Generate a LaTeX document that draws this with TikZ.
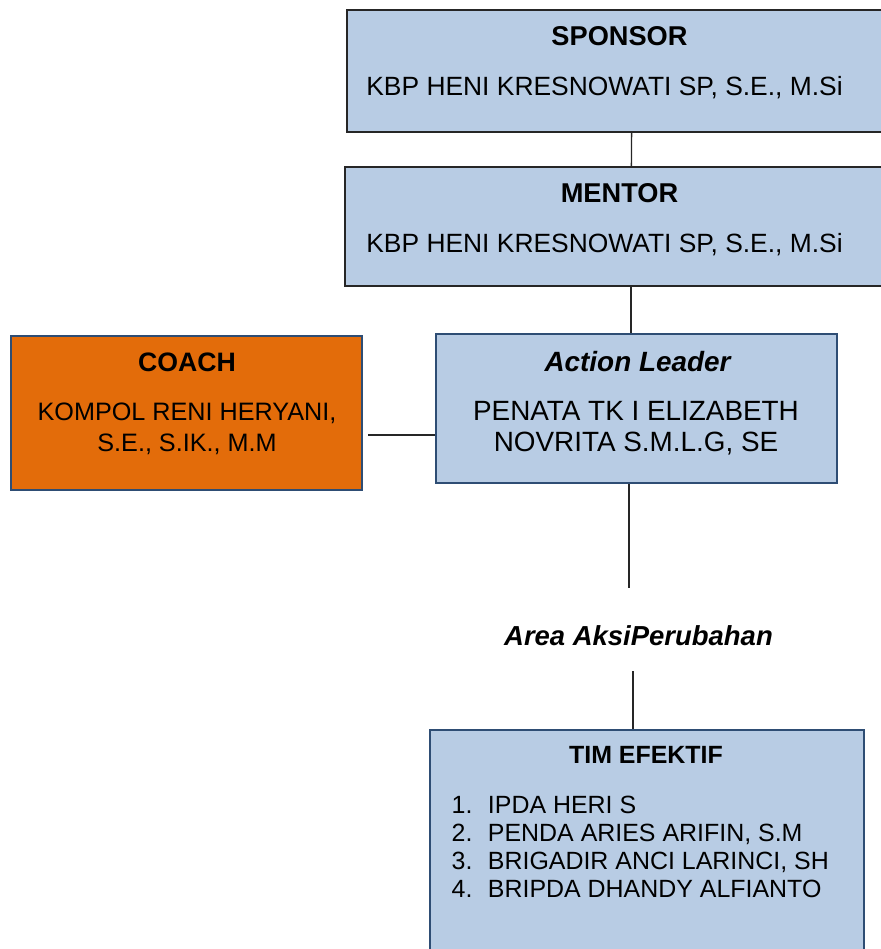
\documentclass[tikz,border=0pt]{standalone}
\usepackage{fontspec}
\setmainfont{Liberation Sans}
\usetikzlibrary{positioning}
\definecolor{boxblue}{HTML}{B8CCE4}
\definecolor{lineblue}{HTML}{2E4D74}
\definecolor{coachorange}{HTML}{E36C0A}
\begin{document}
\begin{tikzpicture}[x=0.75pt,y=-0.75pt,
	box/.style={draw=black!85,fill=boxblue,line width=1.2pt,rectangle,inner sep=0pt},
	bluebox/.style={box,draw=lineblue,line width=1.8pt},
	title/.style={font=\fontsize{20.4}{24}\selectfont\bfseries},
	body/.style={font=\fontsize{19.8}{23.25}\selectfont,align=center},
	conn/.style={draw=black!85,line width=1pt}]
		\useasboundingbox (0,0) rectangle (881,949);
		\clip (0,0) rectangle (881,949);
		\node[box,minimum width=570*0.75pt,minimum height=122*0.75pt] at (632,71) (sponsor) {};
		\node[box,minimum width=572*0.75pt,minimum height=119*0.75pt] at (631,226.5) (mentor) {};
		\node[bluebox,fill=coachorange,minimum width=351*0.75pt,minimum height=154*0.75pt] at (186.5,413) (coach) {};
		\node[bluebox,minimum width=401*0.75pt,minimum height=149*0.75pt] at (636.5,408.5) (action) {};
		\node[bluebox,minimum width=434*0.75pt,minimum height=260*0.75pt] at (647,860) (tim) {};
		% teks
		\node[title] at (619.5,36) (sponsortitle) {SPONSOR};
		\node[body] at (604.5,88) (sponsorname) {KBP HENI KRESNOWATI SP, S.E., M.Si};
		\node[title] at (619.5,193) (mentortitle) {MENTOR};
		\node[body] at (604.5,245) (mentorname) {KBP HENI KRESNOWATI SP, S.E., M.Si};
		\node[title,font=\fontsize{20}{24}\selectfont\bfseries] at (187,362.5) (coachtitle) {COACH};
		\node[body,font=\fontsize{18.9}{23.25}\selectfont] at (187,428.5) (coachname) {KOMPOL RENI HERYANI,\\S.E., S.IK., M.M};
		\node[title,font=\fontsize{20.9}{24}\selectfont\bfseries\itshape] at (637.5,361.5) (actiontitle) {Action Leader};
		\node[body,font=\fontsize{20.9}{23.5}\selectfont] at (636,428.5) (actionname) {PENATA TK I ELIZABETH\\NOVRITA S.M.L.G, SE};
		\node[font=\fontsize{20.6}{23}\selectfont\bfseries\itshape] at (638.5,636) (area) {Area AksiPerubahan};
		\node[font=\fontsize{18.7}{21}\selectfont\bfseries] at (646,755) (timtitle) {TIM EFEKTIF};
		\node[font=\fontsize{18.7}{21}\selectfont,align=left,anchor=west] at (447,846.5) (timlist)
			{1.\hspace{0.62em}IPDA HERI S\\2.\hspace{0.62em}PENDA ARIES ARIFIN, S.M\\3.\hspace{0.62em}BRIGADIR ANCI LARINCI, SH\\4.\hspace{0.62em}BRIPDA DHANDY ALFIANTO};
		% garis
		\coordinate (coachline) at (368,435);
		\coordinate (areatop) at (629,588);
		\coordinate (areabot) at (633,671);
		\draw[conn] (sponsor) to (mentor);
		\draw[conn] (mentor.south) to (mentor.south |- action.north);
		\draw[conn] (coachline) to (coachline -| action.west);
		\draw[conn] (action.south -| areatop) to (areatop);
		\draw[conn] (areabot) to (areabot |- tim.north);
	\end{tikzpicture}
\end{document}
